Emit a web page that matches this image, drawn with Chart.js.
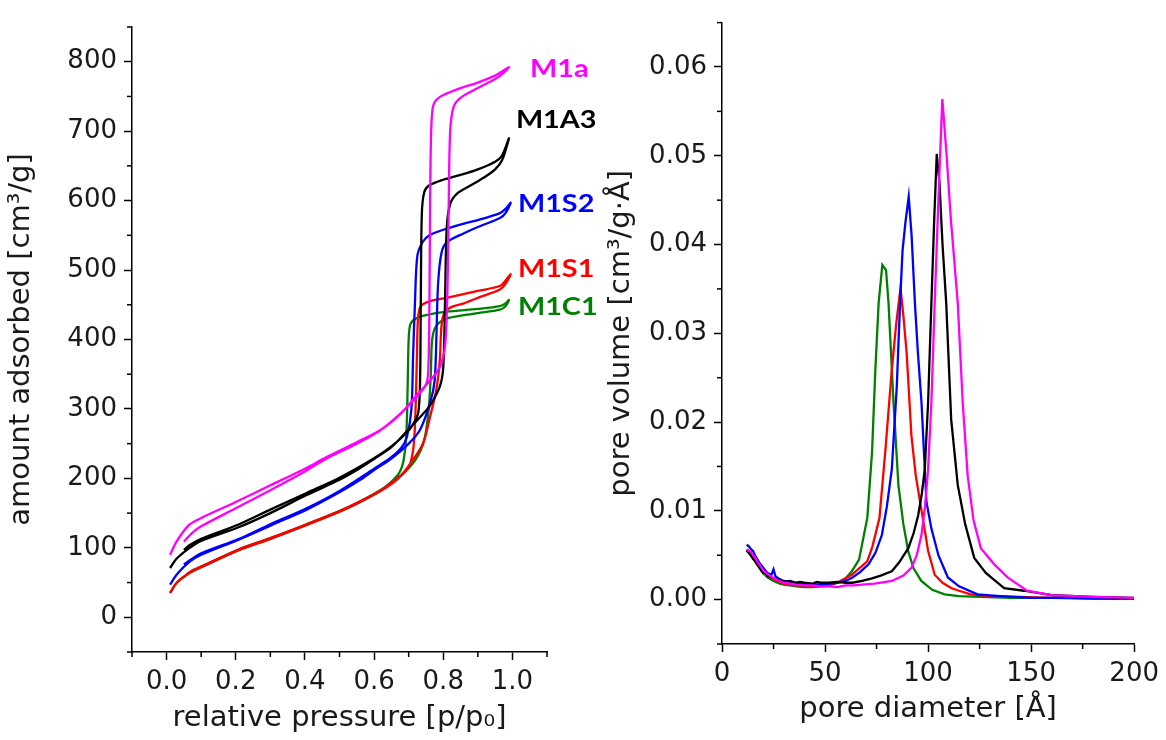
<!DOCTYPE html>
<html>
<head>
<meta charset="utf-8">
<script src="https://cdn.jsdelivr.net/npm/chart.js@4.4.1/dist/chart.umd.min.js"></script>
<style>
  body { margin: 0; background: #fff; }
  canvas { position: absolute; top: 0; }
  #isoterma { left: 0; }
  #distribuicao { left: 580px; }
</style>
</head>
<body>
<canvas id="distribuicao" width="586" height="740"></canvas>
<canvas id="isoterma" width="640" height="740"></canvas>
<script>
// ---------------- isotermas (p/p0 , cm3/g) : ida = adsorcao, volta = dessorcao ----------------
const amostras = ['M1a', 'M1A3', 'M1S2', 'M1S1', 'M1C1'];
const cores = ['#ff00ff', '#000000', '#0000ff', '#ff0000', '#008000'];

const m1aP = [0.01,0.03,0.065,0.1,0.2,0.3,0.4,0.46,0.55,0.62,0.675,0.72,0.76,0.79,0.805,0.812,0.816,0.82,0.83,0.85,0.9,0.95,0.97,0.99,
              0.97,0.95,0.9,0.85,0.8,0.78,0.77,0.765,0.762,0.76,0.757,0.75,0.7,0.62,0.55,0.46,0.4,0.3,0.2,0.1,0.075,0.05];
const m1aV = [90,110,133,143,166,190,214,230,252,270,292,318,340,360,390,470,600,700,735,748,762,775,782,792,
              786,780,770,762,752,745,735,700,600,450,360,335,305,270,250,228,210,183,157,131,122,109];

const m1a3P = [0.01,0.03,0.067,0.1,0.21,0.3,0.405,0.5,0.56,0.6,0.65,0.695,0.74,0.762,0.79,0.8,0.805,0.81,0.82,0.84,0.88,0.92,0.95,0.97,0.99,
               0.97,0.95,0.9,0.85,0.8,0.76,0.745,0.738,0.735,0.733,0.728,0.715,0.695,0.65,0.6,0.5,0.405,0.3,0.21,0.1,0.067,0.05];
const m1a3V = [71,85,100,110,130,150,176,198,215,228,245,268,292,305,332,360,450,560,595,610,622,634,645,658,690,
               665,656,645,637,630,622,612,580,450,340,295,280,266,246,229,201,179,155,134,113,104,97];

const m1s2P = [0.01,0.03,0.067,0.1,0.21,0.3,0.405,0.5,0.56,0.6,0.646,0.7,0.733,0.762,0.775,0.78,0.785,0.795,0.81,0.86,0.9,0.964,0.98,0.995,
               0.98,0.964,0.9,0.86,0.8,0.76,0.74,0.725,0.718,0.713,0.708,0.695,0.68,0.646,0.6,0.5,0.405,0.3,0.21,0.1,0.067,0.05];
const m1s2V = [47,62,80,90,112,132,155,180,198,212,227,250,270,309,340,400,480,525,540,553,562,575,582,597,
               588,582,572,567,558,550,540,520,450,380,300,260,245,229,214,182,157,134,113,92,82,76];

const m1s1P = [0.01,0.03,0.067,0.1,0.21,0.3,0.405,0.5,0.56,0.62,0.67,0.713,0.742,0.762,0.78,0.79,0.795,0.805,0.83,0.86,0.9,0.964,0.98,0.995,
               0.98,0.964,0.9,0.81,0.76,0.735,0.727,0.724,0.72,0.715,0.705,0.69,0.67,0.62,0.56,0.5,0.405,0.3,0.21,0.1,0.067,0.05];
const m1s1V = [35,50,64,72,97,113,133,152,166,182,200,227,251,289,328,370,420,440,448,452,460,472,480,494,
               485,477,470,460,455,448,430,380,300,250,222,210,201,183,167,153,134,114,98,73,65,58];

const m1c1P = [0.01,0.03,0.067,0.1,0.21,0.3,0.405,0.5,0.56,0.63,0.68,0.72,0.745,0.758,0.764,0.768,0.78,0.81,0.86,0.9,0.964,0.98,0.99,
               0.98,0.964,0.9,0.81,0.75,0.72,0.705,0.7,0.697,0.693,0.685,0.675,0.66,0.63,0.56,0.5,0.405,0.3,0.21,0.1,0.067,0.05];
const m1c1V = [35,50,64,72,97,113,133,152,166,186,205,227,255,300,350,400,420,430,435,438,443,448,457,
               452,448,444,440,435,430,422,400,330,260,225,210,200,187,167,153,134,114,98,73,65,58];

const pressaoTicks = [0, 0.2, 0.4, 0.6, 0.8, 1.0];
const pressaoMenores = [-0.1, 0.1, 0.3, 0.5, 0.7, 0.9, 1.1];
const volumeTicks = [0, 100, 200, 300, 400, 500, 600, 700, 800];
const volumeMenores = [-50, 50, 150, 250, 350, 450, 550, 650, 750, 850];

// rotulos das amostras (posicao em p/p0 e cm3/g)
const rotuloP = [1.051, 1.01, 1.016, 1.016, 1.016];
const rotuloV = [778, 705, 584, 490, 436];

// ---------------- distribuicao de poros (Angstrom , cm3/g.A) ----------------
const m1aD = [12,13,14,15,16,17,18,20,22,25,28,30,33,36,40,44,48,52,56,60,64,68,74,82.4,88,92,94.5,96.8,98.5,100,101.6,103.2,105,106.9,109,111,114.4,116.8,119.2,122,125.6,132,138.6,148,160,180,200];
const m1aY = [0.0057,0.0055,0.0054,0.0050,0.0048,0.0043,0.0040,0.0033,0.0029,0.0024,0.0021,0.0019,0.0018,0.0017,0.0016,0.0016,0.0015,0.0015,0.0014,0.0016,0.0016,0.0017,0.0018,0.0021,0.0027,0.0036,0.0050,0.0073,0.0105,0.0147,0.0222,0.0334,0.0450,0.0564,0.0500,0.0430,0.0334,0.0222,0.0140,0.0090,0.0058,0.0040,0.0025,0.0010,0.0005,0.0003,0.0002];

const m1a3D = [12,13,14,15,16,17,18,19,20,21,22,23,25,27,28,30,33,36,38,40,44,46,48,52,56,60,63.3,68,72.8,77,82.4,86,90.4,93,95.2,97,98.4,100,101.6,103,104.2,105.5,107,108.8,111.2,114.4,118,122.4,128,136.9,146.5,160,180,200];
const m1a3Y = [0.0056,0.0053,0.0050,0.0046,0.0044,0.0040,0.0037,0.0033,0.0030,0.0031,0.0027,0.0026,0.0024,0.0022,0.0023,0.0020,0.0021,0.0019,0.0020,0.0019,0.0018,0.0020,0.0019,0.0019,0.0020,0.0019,0.0019,0.0021,0.0024,0.0027,0.0032,0.0042,0.0058,0.0075,0.0095,0.0120,0.0147,0.0222,0.0334,0.0430,0.0502,0.0470,0.0400,0.0334,0.0203,0.0129,0.0085,0.0047,0.0030,0.0013,0.0010,0.0005,0.0003,0.0002];

const m1s2D = [12,13,14,15,16,17,18,20,22,24,25,26,28,30,33,36,40,44,48,52,56,60,63.3,67,71.2,74.5,77.6,80,82.4,84.8,86.4,87.6,89,90.6,92,93.6,95,96.8,99.2,101.6,105,109.6,115,124,135,150,170,200];
const m1s2Y = [0.0062,0.0060,0.0057,0.0055,0.0050,0.0046,0.0042,0.0036,0.0030,0.0028,0.0034,0.0026,0.0023,0.0021,0.0020,0.0018,0.0017,0.0017,0.0017,0.0018,0.0019,0.0021,0.0025,0.0031,0.0040,0.0053,0.0073,0.0105,0.0147,0.0240,0.0334,0.0393,0.0425,0.0454,0.0410,0.0334,0.0280,0.0222,0.0110,0.0080,0.0050,0.0025,0.0015,0.0006,0.0004,0.0002,0.0002,0.0001];

const m1s1D = [12,14,16,18,20,22,25,28,30,33,36,40,44,48,52,56,60,63,66,70.5,73,76.4,79.2,82.4,84.5,86.6,88,89.6,91.9,94,96.7,100,103.2,107,111.2,115,120.7,130,145,160,180,200];
const m1s1Y = [0.0055,0.0052,0.0046,0.0040,0.0033,0.0028,0.0023,0.0020,0.0018,0.0017,0.0016,0.0016,0.0015,0.0016,0.0017,0.0019,0.0024,0.0028,0.0034,0.0043,0.0060,0.0092,0.0166,0.0259,0.0310,0.0351,0.0320,0.0278,0.0185,0.0140,0.0102,0.0055,0.0028,0.0019,0.0013,0.0010,0.0006,0.0004,0.0003,0.0002,0.0002,0.0001];

const m1c1D = [12,14,16,18,20,22,25,28,30,33,36,40,44,48,52,56,60,63,66.5,70.5,72.8,74.4,76,77.8,79.6,80.8,83.2,85.6,88,90.4,93,96.7,102,108,115,125,140,160,180,200];
const m1c1Y = [0.0055,0.0050,0.0043,0.0036,0.0030,0.0025,0.0021,0.0018,0.0017,0.0016,0.0015,0.0014,0.0014,0.0015,0.0016,0.0019,0.0024,0.0032,0.0045,0.0092,0.0166,0.0259,0.0334,0.0377,0.0371,0.0334,0.0223,0.0129,0.0085,0.0054,0.0035,0.0021,0.0011,0.0006,0.0004,0.0003,0.0002,0.0002,0.0001,0.0001];

const diametroTicks = [0, 50, 100, 150, 200];
const diametroMenores = [25, 75, 125, 175];
const poroTicks = [0, 0.01, 0.02, 0.03, 0.04, 0.05, 0.06];
const poroMenores = [-0.005, 0.005, 0.015, 0.025, 0.035, 0.045, 0.055, 0.065];

//-----------------------------------------------------     plugins     ----------------------------------------------------------//

// tracinhos menores nos eixos
const tracosMenores = {
    id: 'tracosMenores',
    afterDraw(chart, args, opts) {
        const ctx = chart.ctx;
        ctx.save();
        ctx.strokeStyle = '#000';
        ctx.lineWidth = 1.5;
        const sx = chart.scales.x, sy = chart.scales.y;
        opts.x.forEach(v => {
            const px = sx.getPixelForValue(v);
            ctx.beginPath(); ctx.moveTo(px, sx.top); ctx.lineTo(px, sx.top + 5); ctx.stroke();
        });
        opts.y.forEach(v => {
            const py = sy.getPixelForValue(v);
            ctx.beginPath(); ctx.moveTo(sy.right, py); ctx.lineTo(sy.right - 5, py); ctx.stroke();
        });
        ctx.restore();
    }
};

// nomes das amostras ao lado das curvas
const nomesAmostras = {
    id: 'nomesAmostras',
    afterDraw(chart, args, opts) {
        if (!opts.nomes) return;
        const ctx = chart.ctx;
        ctx.save();
        ctx.font = 'bold 24px Lato';
        ctx.textBaseline = 'alphabetic';
        opts.nomes.forEach((nome, i) => {
            const px = chart.scales.x.getPixelForValue(opts.px[i]);
            const py = chart.scales.y.getPixelForValue(opts.py[i]);
            ctx.save();
            ctx.translate(px, py);
            ctx.scale(1.2, 1);
            ctx.fillStyle = opts.cores[i];
            ctx.fillText(nome, 0, 0);
            ctx.restore();
        });
        ctx.restore();
    }
};

//-----------------------------------------------------     graficos     ----------------------------------------------------------//

function pontos(xs, ys) {
    return xs.map((x, i) => ({ x: x, y: ys[i] }));
}

function serie(nome, xs, ys, cor, tensao) {
    return {
        label: nome,
        data: pontos(xs, ys),
        showLine: true,
        borderColor: cor,
        backgroundColor: cor,
        borderWidth: 2.3,
        pointRadius: 0,
        tension: tensao
    };
}

function eixo(min, max, ticks, casas, titulo, extra) {
    return Object.assign({
        type: 'linear',
        min: min,
        max: max,
        afterBuildTicks: s => { s.ticks = ticks.map(v => ({ value: v })); },
        ticks: {
            font: { family: 'DejaVu Sans', size: 26 },
            color: '#1a1a1a',
            padding: 7,
            autoSkip: false,
            maxRotation: 0,
            callback: v => Number(v).toFixed(casas)
        },
        grid: { drawOnChartArea: false, tickLength: 8, tickColor: '#000', tickWidth: 1.5 },
        border: { color: '#000', width: 1.5 },
        title: { display: true, text: titulo, color: '#1a1a1a', font: { family: 'DejaVu Sans', size: 29 } }
    }, extra);
}

Chart.register(tracosMenores, nomesAmostras);

const seriesIsoterma = [
    serie('M1a', m1aP, m1aV, cores[0], 0.3),
    serie('M1A3', m1a3P, m1a3V, cores[1], 0.3),
    serie('M1S2', m1s2P, m1s2V, cores[2], 0.3),
    serie('M1S1', m1s1P, m1s1V, cores[3], 0.3),
    serie('M1C1', m1c1P, m1c1V, cores[4], 0.3)
];

new Chart(document.getElementById('isoterma').getContext('2d'), {
    type: 'scatter',
    data: { datasets: seriesIsoterma },
    options: {
        responsive: false,
        animation: false,
        devicePixelRatio: 1,
        layout: { padding: { top: 27, right: 93, left: 0, bottom: 0 } },
        plugins: {
            legend: { display: false },
            tooltip: { enabled: false },
            tracosMenores: { x: pressaoMenores, y: volumeMenores },
            nomesAmostras: { nomes: amostras, px: rotuloP, py: rotuloV, cores: cores }
        },
        scales: {
            x: eixo(-0.1, 1.1, pressaoTicks, 1, 'relative pressure [p/p\u2080]', {
                afterFit: s => { s.height = 88; }
            }),
            y: eixo(-50, 850, volumeTicks, 0, 'amount adsorbed [cm\u00b3/g]', {
                afterFit: s => { s.width = 132; }
            })
        }
    }
});

const seriesPoros = [
    serie('M1a', m1aD, m1aY, cores[0], 0),
    serie('M1A3', m1a3D, m1a3Y, cores[1], 0),
    serie('M1S2', m1s2D, m1s2Y, cores[2], 0),
    serie('M1S1', m1s1D, m1s1Y, cores[3], 0),
    serie('M1C1', m1c1D, m1c1Y, cores[4], 0)
];

const graficoPoros = {
    type: 'scatter',
    data: { datasets: seriesPoros },
    options: {
        responsive: false,
        animation: false,
        devicePixelRatio: 1,
        layout: { padding: { top: 17, right: 28, left: 0, bottom: 0 } },
        plugins: {
            legend: { display: false },
            tooltip: { enabled: false },
            tracosMenores: { x: diametroMenores, y: poroMenores },
            nomesAmostras: {}
        },
        scales: {
            x: eixo(0, 200, diametroTicks, 0, 'pore diameter [\u00c5]', {
                afterFit: s => { s.height = 96; }
            }),
            y: eixo(-0.005, 0.065, poroTicks, 2, 'pore volume [cm\u00b3/g\u00b7\u00c5]', {
                afterFit: s => { s.width = 142; }
            })
        }
    }
};
graficoPoros.options.scales.x.title.padding = { top: 0, bottom: 13 };
graficoPoros.options.scales.y.title.padding = { top: 24, bottom: 0 };

new Chart(document.getElementById('distribuicao').getContext('2d'), graficoPoros);
</script>
</body>
</html>
